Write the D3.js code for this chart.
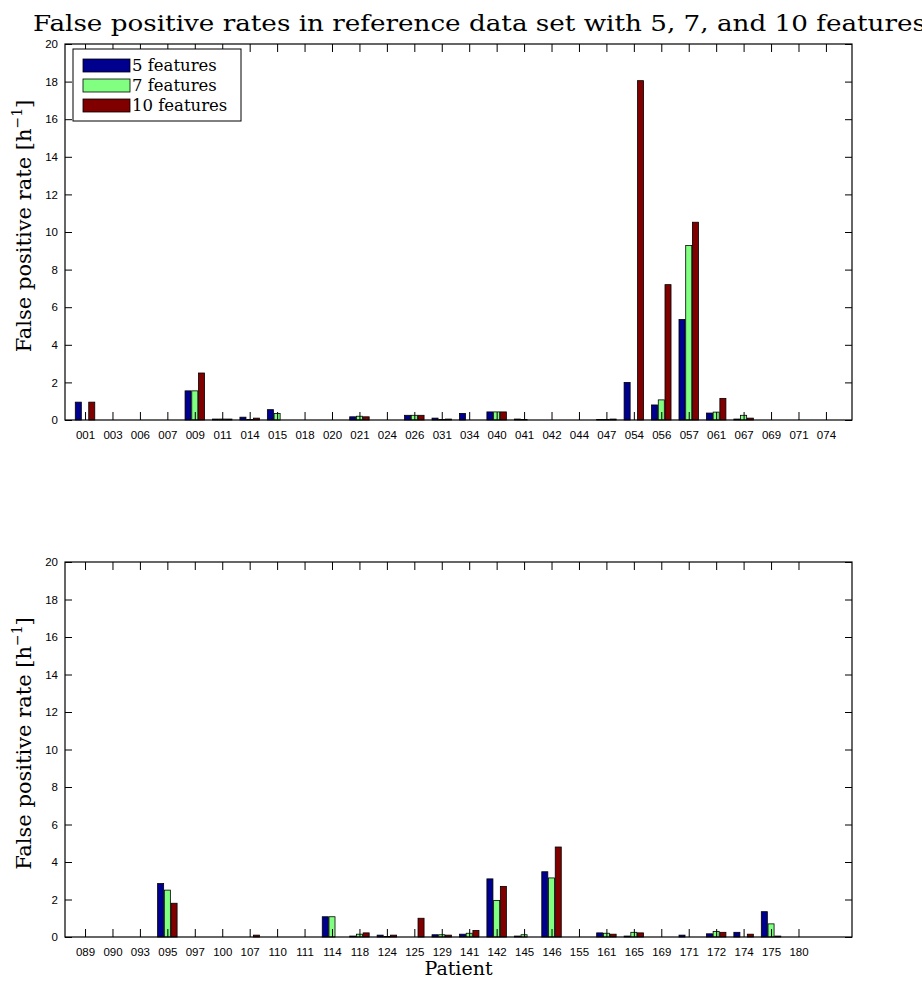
<!DOCTYPE html>
<html>
<head>
<meta charset="utf-8">
<script src="https://cdn.jsdelivr.net/npm/d3@7"></script>
<style>
  html, body { margin: 0; padding: 0; background: #fff; }
  svg { display: block; }
  .tick text { font-family: "Liberation Sans", Arial, sans-serif; font-size: 11.5px; fill: #000; }
  .serif { font-family: "DejaVu Serif", "Liberation Serif", serif; fill: #000; }
</style>
</head>
<body>
<svg id="chart" width="922" height="984"></svg>
<script>
// Patients and false positive rates [1/h] for each feature-set size
const patientsA = ["001","003","006","007","009","011","014","015","018","020","021","024","026","031",
                   "034","040","041","042","044","047","054","056","057","061","067","069","071","074"];
const fp5A  = [0.95,0,0,0,1.55,0.05,0.15,0.55,0,0,0.17,0,0.25,0.10,0.35,0.43,0.05,0,0,0.03,2.0,0.80,5.35,0.37,0.05,0,0,0];
const fp7A  = [0,0,0,0,1.55,0.05,0.03,0.35,0,0,0.20,0,0.25,0.03,0,0.43,0.03,0,0,0.03,0,1.07,9.28,0.42,0.25,0,0,0];
const fp10A = [0.95,0,0,0,2.50,0.05,0.10,0,0,0,0.17,0,0.25,0.05,0,0.43,0,0,0,0.05,18.05,7.20,10.52,1.15,0.10,0,0,0];

const patientsB = ["089","090","093","095","097","100","107","110","111","114","118","124","125","129",
                   "141","142","145","146","155","161","165","169","171","172","174","175","180"];
const fp5B  = [0,0,0,2.85,0,0,0,0,0,1.08,0.05,0.10,0,0.12,0.15,3.10,0.05,3.48,0,0.22,0.05,0,0.10,0.17,0.25,1.35,0];
const fp7B  = [0,0,0,2.50,0,0,0,0,0,1.08,0.15,0.03,0,0.12,0.20,1.95,0.12,3.15,0,0.20,0.25,0,0,0.30,0,0.70,0];
const fp10B = [0,0,0,1.80,0,0,0.10,0,0,0,0.22,0.10,1.00,0.10,0.35,2.70,0,4.80,0,0.15,0.22,0,0,0.25,0.15,0.05,0];

const seriesNames = ["5 features", "7 features", "10 features"];
const seriesColors = ["#00008f", "#80ff80", "#800000"];
const yTicks = [0,2,4,6,8,10,12,14,16,18,20];

const svg = d3.select("#chart");
const left = 65, right = 852;

function panel(top, bottom, cats, series) {
  const g = svg.append("g");
  const x = d3.scaleLinear().domain([0.27, 28.95]).range([left, right]);
  const y = d3.scaleLinear().domain([0, 20]).range([bottom, top]);
  const idx = cats.map((_, i) => i + 1);
  const bw = 0.22, off = 0.245;

  // grouped bars
  series.forEach((vals, s) => {
    g.append("g").selectAll("rect").data(vals.map((v, i) => ({v, i})).filter(d => d.v > 0))
      .join("rect")
      .attr("x", d => x(d.i + 1 + (s - 1) * off - bw / 2))
      .attr("width", x(bw) - x(0))
      .attr("y", d => y(d.v))
      .attr("height", d => y(0) - y(d.v))
      .attr("fill", seriesColors[s])
      .attr("stroke", "#000")
      .attr("stroke-width", 0.8);
  });

  // x axis with patient labels, ticks pointing inward
  const xb = g.append("g").attr("transform", `translate(0,${bottom})`)
    .call(d3.axisBottom(x).tickValues(idx).tickFormat((d, i) => cats[i]).tickSizeInner(-8).tickSizeOuter(0).tickPadding(11));
  const xt = g.append("g").attr("transform", `translate(0,${top})`)
    .call(d3.axisTop(x).tickValues(idx).tickFormat("").tickSizeInner(-8).tickSizeOuter(0));
  const yl = g.append("g").attr("transform", `translate(${left},0)`)
    .call(d3.axisLeft(y).tickValues(yTicks).tickSizeInner(-7).tickSizeOuter(0).tickPadding(7));
  const yr = g.append("g").attr("transform", `translate(${right},0)`)
    .call(d3.axisRight(y).tickValues(yTicks).tickFormat("").tickSizeInner(-7).tickSizeOuter(0));
  [xb, xt, yl, yr].forEach(a => { a.select(".domain").remove(); a.selectAll("line").attr("stroke", "#000"); });

  // axes box
  g.append("rect").attr("x", left).attr("y", top).attr("width", right - left).attr("height", bottom - top)
    .attr("fill", "none").attr("stroke", "#000").attr("stroke-width", 1.2);

  // y label
  const lab = g.append("text").attr("class", "serif")
    .attr("transform", `translate(31,${(top + bottom) / 2 - 6}) rotate(-90)`)
    .attr("text-anchor", "middle").attr("font-size", 21);
  lab.append("tspan").text("False positive rate [h");
  lab.append("tspan").attr("font-size", 14).attr("dy", -9).text("−1");
  lab.append("tspan").attr("dy", 9).text("]");
  return {x, y, g};
}

const pA = panel(44, 420, patientsA, [fp5A, fp7A, fp10A]);
const pB = panel(562, 937, patientsB, [fp5B, fp7B, fp10B]);

// title
svg.append("text").attr("class", "serif").attr("x", 33).attr("y", 31)
  .attr("font-size", 22).attr("textLength", 893).attr("lengthAdjust", "spacingAndGlyphs")
  .text("False positive rates in reference data set with 5, 7, and 10 features");

// x label
svg.append("text").attr("class", "serif").attr("x", (left + right) / 2).attr("y", 975)
  .attr("text-anchor", "middle").attr("font-size", 19).text("Patient");

// legend
const lg = svg.append("g").attr("transform", "translate(73,49)");
lg.append("rect").attr("width", 168).attr("height", 72).attr("fill", "#fff").attr("stroke", "#000").attr("stroke-width", 1);
seriesNames.forEach((name, i) => {
  const yy = 10 + i * 20;
  lg.append("rect").attr("x", 10).attr("y", yy).attr("width", 47).attr("height", 13)
    .attr("fill", seriesColors[i]).attr("stroke", "#000").attr("stroke-width", 0.8);
  lg.append("text").attr("class", "serif").attr("x", 59).attr("y", yy + 12)
    .attr("font-size", 16.5).text(name);
});
</script>
</body>
</html>
